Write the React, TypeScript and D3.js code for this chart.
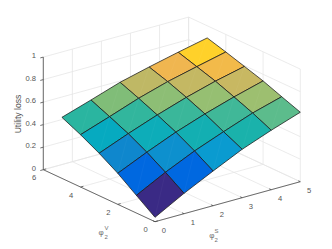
import React from "react";
import * as d3 from "d3";

const sTicks = [0, 1, 2, 3, 4, 5];
const vTicks = [0, 2, 4, 6];
const zTicks = [0, 0.2, 0.4, 0.6, 0.8, 1];
const surfaceS = [0, 1, 2, 3, 4, 5];
const surfaceV = [0, 1, 2, 3, 4, 5];
// rows: v = 0..5, columns: s = 0..5
const loss0 = [0.039, 0.181, 0.308, 0.43, 0.528, 0.617];
const loss1 = [0.157, 0.291, 0.409, 0.509, 0.604, 0.678];
const loss2 = [0.276, 0.392, 0.499, 0.59, 0.67, 0.741];
const loss3 = [0.377, 0.48, 0.575, 0.66, 0.733, 0.793];
const loss4 = [0.465, 0.554, 0.646, 0.723, 0.785, 0.844];
const loss5 = [0.542, 0.625, 0.711, 0.776, 0.836, 0.892];
const lossRows = [loss0, loss1, loss2, loss3, loss4, loss5];
const colorStops = [0.167, 0.279, 0.297, 0.385, 0.414, 0.469, 0.518, 0.546, 0.593, 0.607, 0.634, 0.673, 0.714, 0.734, 0.78, 0.839];
const colorValues = ["#3a2a85", "#0068e0", "#0068e0", "#1088cc", "#0a9bd0", "#06aac0", "#1ab2ab", "#2ab5a0", "#40b898", "#5cbc8c", "#80bd78", "#9dbf70", "#bfb865", "#c8b862", "#f0b650", "#ffd12a"];

const sx = d3.scaleLinear().domain([0, 5]).range([0, 145.3]);
const sy = d3.scaleLinear().domain([0, 5]).range([0, -40]);
const vx = d3.scaleLinear().domain([0, 6]).range([0, -111.7]);
const vy = d3.scaleLinear().domain([0, 6]).range([0, -52]);
const zy = d3.scaleLinear().domain([0, 1]).range([0, -112.6]);
const color = d3.scaleLinear<string>().domain(colorStops).range(colorValues).clamp(true);
const P = (s: number, v: number, z: number): [number, number] => [155 + sx(s) + vx(v), 221.7 + sy(s) + vy(v) + zy(z)];
const seg = (a: [number, number], b: [number, number]) => ({ x1: a[0], y1: a[1], x2: b[0], y2: b[1] });

const GRID = "#e6e6e6";
const AXIS = "#4a4a4a";
const TEXT = "#555555";
const FONT = "'Liberation Sans', Arial, sans-serif";

export default function App() {
  const grid: { x1: number; y1: number; x2: number; y2: number }[] = [];
  zTicks.forEach((z) => {
    grid.push(seg(P(0, 6, z), P(5, 6, z)));
    grid.push(seg(P(5, 6, z), P(5, 0, z)));
  });
  sTicks.forEach((s) => {
    grid.push(seg(P(s, 0, 0), P(s, 6, 0)));
    grid.push(seg(P(s, 6, 0), P(s, 6, 1)));
  });
  vTicks.forEach((v) => {
    grid.push(seg(P(0, v, 0), P(5, v, 0)));
    grid.push(seg(P(5, v, 0), P(5, v, 1)));
  });
  const line = d3.line();
  const cells: { d: string; c: string; diag: string; k: string }[] = [];
  for (let j = surfaceV.length - 2; j >= 0; j--) {
    for (let i = surfaceS.length - 2; i >= 0; i--) {
      const a = P(surfaceS[i], surfaceV[j], lossRows[j][i]);
      const b = P(surfaceS[i + 1], surfaceV[j], lossRows[j][i + 1]);
      const c = P(surfaceS[i + 1], surfaceV[j + 1], lossRows[j + 1][i + 1]);
      const e = P(surfaceS[i], surfaceV[j + 1], lossRows[j + 1][i]);
      const mean = d3.mean([lossRows[j][i], lossRows[j][i + 1], lossRows[j + 1][i + 1], lossRows[j + 1][i]])!;
      cells.push({ k: `${i}-${j}`, d: line([a, b, c, e])! + "Z", diag: line([a, c])!, c: color(mean) });
    }
  }
  return (
    <svg width={332} height={249} style={{ position: "absolute", left: 0, top: 0, background: "#fff" }} fontFamily={FONT}>
      {grid.map((g, i) => <line key={i} {...g} stroke={GRID} strokeWidth={0.8} />)}
      <line {...seg(P(0, 6, 0), P(0, 6, 1))} stroke={AXIS} strokeWidth={0.8} />
      <line {...seg(P(0, 0, 0), P(0, 6, 0))} stroke={AXIS} strokeWidth={0.8} />
      <line {...seg(P(0, 0, 0), P(5, 0, 0))} stroke={AXIS} strokeWidth={0.8} />
      {zTicks.map((z) => {
        const [x, y] = P(0, 6, z);
        return (
          <g key={z}>
            <line x1={x} y1={y} x2={x - 3} y2={y + 0.8} stroke={AXIS} strokeWidth={0.8} />
            <text x={36} y={y - 1.4} fontSize={7.6} fill={TEXT} textAnchor="end" dominantBaseline="central">{z}</text>
          </g>
        );
      })}
      {sTicks.map((s) => {
        const [x, y] = P(s, 0, 0);
        return (
          <g key={s}>
            <line x1={x} y1={y} x2={x - 2} y2={y - 0.9} stroke={AXIS} strokeWidth={0.8} />
            <text x={x + 8.8} y={y + 9} fontSize={7.6} fill={TEXT} textAnchor="middle" dominantBaseline="central">{s}</text>
          </g>
        );
      })}
      {vTicks.map((v) => {
        const [x, y] = P(0, v, 0);
        return (
          <g key={v}>
            <line x1={x} y1={y} x2={x + 2.9} y2={y - 0.8} stroke={AXIS} strokeWidth={0.8} />
            <text x={x - 9.3} y={y + 8} fontSize={7.6} fill={TEXT} textAnchor="middle" dominantBaseline="central">{v}</text>
          </g>
        );
      })}
      {cells.map((c) => (
        <g key={c.k}>
          <path d={c.d} fill={c.c} stroke="none" />
          <path d={c.diag} fill="none" stroke="#fff" strokeOpacity={0.06} strokeWidth={0.6} />
          <path d={c.d} fill="none" stroke="#1a1a1a" strokeWidth={0.75} strokeLinejoin="round" />
        </g>
      ))}
      <text transform="translate(18,114) rotate(-90)" fontSize={8.6} fill={TEXT} textAnchor="middle" dominantBaseline="central">Utility loss</text>
      <g fill="#707070">
        <text x={98.5} y={234.5} fontSize={8}>φ</text>
        <text x={104.5} y={230} fontSize={6}>V</text>
        <text x={104.5} y={239} fontSize={6}>2</text>
        <text x={209.2} y={237.8} fontSize={8}>φ</text>
        <text x={214.5} y={233} fontSize={6}>S</text>
        <text x={214.5} y={242} fontSize={6}>2</text>
      </g>
    </svg>
  );
}
